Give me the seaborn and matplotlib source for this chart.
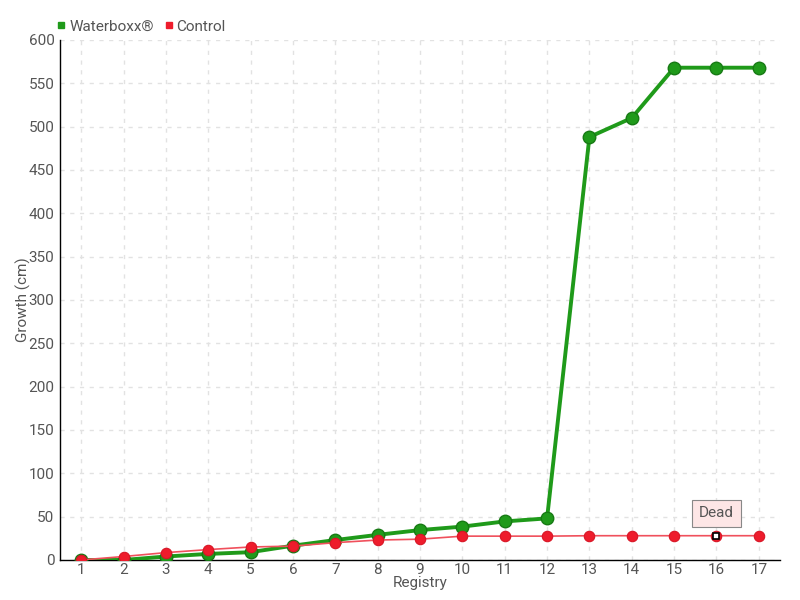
import numpy as np
import pandas as pd
import matplotlib
matplotlib.use("Agg")
import matplotlib.pyplot as plt
import seaborn as sns

registry = list(range(1, 18))
waterboxx = [0, 0, 4, 7, 9, 16.5, 23, 29, 34.5, 38.5, 44.5, 48, 488, 510, 568, 568, 568]
control = [0, 4, 8.5, 12, 15, 16, 20, 23, 24, 27.5, 27.5, 27.5, 28, 28, 28, 28, 28]
series_names = ["Waterboxx®", "Control"]
colors = {"Waterboxx®": "#1f9a1a", "Control": "#ee1c2c"}
dead_index = 15  # registry 16

df = pd.DataFrame({
    "Registry": registry * 2,
    "Growth": waterboxx + control,
    "series": [series_names[0]] * len(registry) + [series_names[1]] * len(registry),
})

sns.set_style("white")
plt.rcParams["font.family"] = ["Roboto", "DejaVu Sans"]

fig = plt.figure(figsize=(8, 6), dpi=100)
ax = fig.add_axes([0.075, 0.0667, 0.9, 0.8667])

sns.lineplot(data=df[df.series == "Waterboxx®"], x="Registry", y="Growth",
             color=colors["Waterboxx®"], linewidth=2.8, marker="o", markersize=9,
             markeredgecolor="#177a14", markeredgewidth=1, ax=ax, zorder=3)
sns.lineplot(data=df[df.series == "Control"], x="Registry", y="Growth",
             color="#f0505c", linewidth=1.2, marker="o", markersize=7.5,
             markerfacecolor=colors["Control"], markeredgecolor="#d81626",
             markeredgewidth=0.8, ax=ax, zorder=4)

# dead marker
ax.plot(registry[dead_index], control[dead_index], marker="s", markersize=5,
        markerfacecolor="white", markeredgecolor="black", markeredgewidth=1.2,
        linestyle="none", zorder=6)
ax.annotate("Dead", xy=(registry[dead_index], control[dead_index]),
            xytext=(0, 16), textcoords="offset points", ha="center", va="center",
            fontsize=11, color="#555555",
            bbox=dict(boxstyle="square,pad=0.45", fc="#fde6e6", ec="#888888", lw=0.8),
            zorder=7)

ax.set_xlim(0.5, 17.5)
ax.set_ylim(0, 600)
ax.set_xticks(registry)
ax.set_yticks(np.arange(0, 601, 50))
ax.grid(True, linestyle=(0, (3, 4)), color="#e2e2e2", linewidth=1)
ax.set_axisbelow(True)
for s in ["top", "right"]:
    ax.spines[s].set_visible(False)
for s in ["left", "bottom"]:
    ax.spines[s].set_color("black")
    ax.spines[s].set_linewidth(1)
ax.tick_params(axis="x", direction="inout", length=8, width=1, colors="black",
               labelcolor="#555555", labelsize=11, pad=-2)
ax.tick_params(axis="y", length=0, labelcolor="#555555", labelsize=11, pad=4)
ax.set_xlabel("Registry", fontsize=11, color="#555555")
ax.set_ylabel("Growth (cm)", fontsize=11, color="#555555")
ax.xaxis.set_label_coords(0.5, -0.03)
ax.yaxis.set_label_coords(-0.04, 0.5)

handles = [plt.Line2D([], [], marker="s", linestyle="none", markersize=5,
                      color=colors[n]) for n in series_names]
fig.legend(handles, series_names, loc="upper left", bbox_to_anchor=(0.052, 0.99),
           ncol=2, frameon=False, fontsize=11, handletextpad=0.1,
           columnspacing=0.6, labelcolor="#555555", handlelength=0.8)
if ax.get_legend():
    ax.get_legend().remove()

fig.savefig("out.png", dpi=100)
